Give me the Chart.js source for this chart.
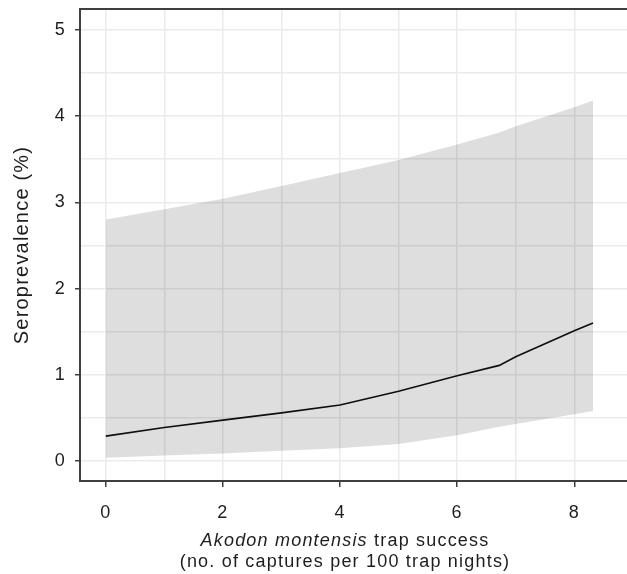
<!DOCTYPE html>
<html>
<head>
<meta charset="utf-8">
<script src="https://cdn.jsdelivr.net/npm/chart.js@4.4.1/dist/chart.umd.min.js"></script>
<style>
  html, body { margin: 0; padding: 0; background: #fff; }
  #wrap { width: 627px; height: 574px; position: relative; }
</style>
</head>
<body>
<div id="wrap"><canvas id="seroChart"></canvas></div>
<script>
// trap success (captures per 100 trap nights) where the curves were read
var trapSuccess = [0, 1, 2, 3, 4, 5, 6, 6.72, 7, 8, 8.32];
// fitted seroprevalence (%) and its confidence band
var meanPrev  = [0.29, 0.39, 0.475, 0.56, 0.65, 0.81, 0.99, 1.11, 1.21, 1.51, 1.60];
var upperPrev = [2.80, 2.92, 3.04, 3.19, 3.34, 3.49, 3.67, 3.81, 3.88, 4.10, 4.18];
var lowerPrev = [0.04, 0.065, 0.09, 0.12, 0.15, 0.20, 0.30, 0.40, 0.43, 0.545, 0.58];
// labelled ticks
var xTickLabels = [0, 2, 4, 6, 8];
var yTickLabels = [0, 1, 2, 3, 4, 5];

var FONT = "'Liberation Sans', Arial, sans-serif";
var TEXT = '#1e1e1e';
var AXIS = '#3f3f3f';

function pts(ys) {
  return trapSuccess.map(function (x, i) { return { x: x, y: ys[i] }; });
}

// top frame line + two-line x title (first words in italics)
var framePlugin = {
  id: 'framePlugin',
  beforeDraw: function (chart) {
    chart.ctx.letterSpacing = '1.2px';
  },
  afterDraw: function (chart) {
    var ctx = chart.ctx, a = chart.chartArea;
    ctx.save();
    ctx.strokeStyle = AXIS;
    ctx.lineWidth = 2;
    ctx.beginPath();
    ctx.moveTo(a.left - 1, a.top);
    ctx.lineTo(a.right, a.top);
    ctx.stroke();

    ctx.fillStyle = TEXT;
    ctx.textBaseline = 'alphabetic';
    ctx.letterSpacing = '1.2px';
    var cx = a.left + 265;
    var part1 = 'Akodon montensis', part2 = ' trap success';
    ctx.font = 'italic 18px ' + FONT;
    var w1 = ctx.measureText(part1).width;
    ctx.font = '18px ' + FONT;
    var w2 = ctx.measureText(part2).width;
    var x0 = cx - (w1 + w2) / 2;
    ctx.textAlign = 'left';
    ctx.font = 'italic 18px ' + FONT;
    ctx.fillText(part1, x0, 546);
    ctx.font = '18px ' + FONT;
    ctx.fillText(part2, x0 + w1, 546);
    ctx.textAlign = 'center';
    ctx.fillText('(no. of captures per 100 trap nights)', cx, 567);
    ctx.restore();
  }
};

var ctxEl = document.getElementById('seroChart').getContext('2d');
var seroChart = new Chart(ctxEl, {
  type: 'line',
  data: {
    datasets: [{
      label: 'upper',
      data: pts(upperPrev),
      fill: '+1',
      backgroundColor: 'rgba(0,0,0,0.13)',
      borderWidth: 0,
      pointRadius: 0
    }, {
      label: 'lower',
      data: pts(lowerPrev),
      fill: false,
      borderWidth: 0,
      pointRadius: 0
    }, {
      label: 'fit',
      data: pts(meanPrev),
      fill: false,
      borderColor: '#111',
      borderWidth: 1.6,
      pointRadius: 0
    }]
  },
  options: {
    responsive: true,
    maintainAspectRatio: false,
    animation: false,
    layout: { padding: { top: 9, right: 0, left: 0, bottom: 0 } },
    plugins: {
      legend: { display: false },
      tooltip: { enabled: false }
    },
    scales: {
      x: {
        type: 'linear',
        min: -0.44,
        max: 8.9,
        afterFit: function (s) {
          s.height = 93;
          s.paddingLeft = 0;
          s.paddingRight = 0;
        },
        ticks: {
          stepSize: 1,
          includeBounds: false,
          autoSkip: false,
          maxRotation: 0,
          padding: 15,
          color: TEXT,
          font: { family: FONT, size: 18 },
          callback: function (v) { return xTickLabels.indexOf(v) >= 0 ? String(v) : ''; }
        },
        grid: {
          color: '#ebebeb',
          lineWidth: 1.5,
          tickLength: 6,
          tickWidth: 1.5,
          tickColor: function (c) {
            return c.tick && xTickLabels.indexOf(c.tick.value) >= 0 ? AXIS : 'rgba(0,0,0,0)';
          }
        },
        border: { color: AXIS, width: 2 }
      },
      y: {
        type: 'linear',
        min: -0.23,
        max: 5.24,
        afterFit: function (s) {
          s.width = 80;
          s.paddingTop = 0;
          s.paddingBottom = 0;
        },
        title: {
          display: true,
          text: 'Seroprevalence (%)',
          color: TEXT,
          font: { family: FONT, size: 20 },
          padding: { top: 10, bottom: 0 }
        },
        ticks: {
          stepSize: 0.5,
          includeBounds: false,
          autoSkip: false,
          padding: 9,
          color: TEXT,
          font: { family: FONT, size: 18 },
          callback: function (v) { return yTickLabels.indexOf(v) >= 0 ? String(v) : ''; }
        },
        grid: {
          color: '#ebebeb',
          lineWidth: 1.5,
          tickLength: 5,
          tickWidth: 1.5,
          tickColor: function (c) {
            return c.tick && yTickLabels.indexOf(c.tick.value) >= 0 ? AXIS : 'rgba(0,0,0,0)';
          }
        },
        border: { color: AXIS, width: 2 }
      }
    }
  },
  plugins: [framePlugin]
});
</script>
</body>
</html>
